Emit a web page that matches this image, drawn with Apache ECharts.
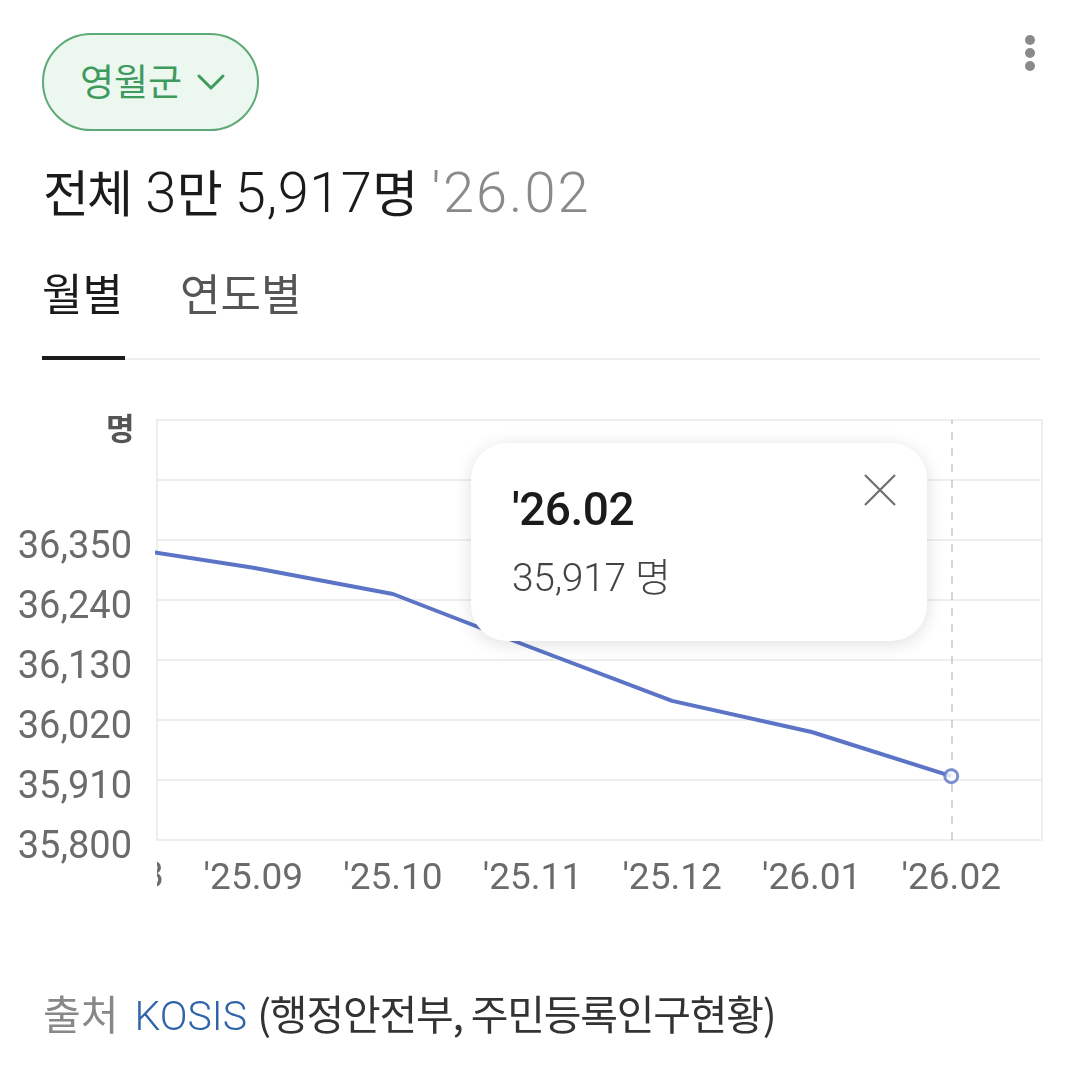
<!DOCTYPE html>
<html>
<head>
<meta charset="utf-8">
<script src="https://cdn.jsdelivr.net/npm/echarts@6/dist/echarts.min.js"></script>
<style>
  html, body { margin:0; padding:0; background:#fff; }
  body { width:1080px; height:1066px; position:relative; overflow:hidden;
         font-family: Roboto, "Noto Sans CJK KR", sans-serif; }
  #chart { position:absolute; left:0; top:0; width:1080px; height:1066px; }
  .abs { position:absolute; white-space:nowrap; }
  .k { font-family:"Noto Sans CJK KR", sans-serif; }
  #region { left:42px; top:33px; width:213px; height:94px; border:2px solid #5eaa76; border-radius:50px;
            background:#ebf7ef; box-sizing:content-box; }
  #region span { position:absolute; left:36px; top:20px; font-size:37px; color:#3f9a5e; letter-spacing:0; line-height:50px; }
  #region svg { position:absolute; left:152px; top:38px; }
  #title { left:43px; top:158px; font-size:56px; color:#1b1b1b; line-height:64px; font-weight:300; letter-spacing:0.5px; }
  #title .k { font-size:50px; letter-spacing:-2px; font-weight:400; }
  #title .date { color:#8a8a8a; margin-left:15px; letter-spacing:2px; }
  #tab1 { left:42px; top:264px; font-size:44px; color:#1b1b1b; line-height:56px; letter-spacing:0; }
  #tab2 { left:180px; top:264px; font-size:44px; color:#555; line-height:56px; letter-spacing:0; }
  #tabline { left:42px; top:358px; width:998px; height:2px; background:#eeeeee; }
  #tabsel { left:42px; top:356px; width:83px; height:4px; background:#1b1b1b; }
  #tip { left:471px; top:443px; width:456px; height:198px; background:#fff; border-radius:36px;
         box-shadow:0 3px 18px rgba(0,0,0,0.13); }
  #tipDate { position:absolute; left:41px; top:38px; font-size:46px; color:#1b1b1b; font-weight:500; letter-spacing:-0.5px; line-height:56px; }
  #tipVal { position:absolute; left:41px; top:106px; font-size:39px; color:#444; font-weight:300; letter-spacing:-0.3px; line-height:50px; }
  #tip svg { position:absolute; left:392px; top:30px; }
  #source { left:43px; top:984px; font-size:41px; line-height:56px; letter-spacing:0; color:#333; }
  #source .s1 { color:#888; }
  #source .s2 { color:#2f64a8; margin-left:16px; font-weight:300; }
  #source .s3 { letter-spacing:-1.2px; }
  .dot { position:absolute; width:10px; height:10px; border-radius:5px; background:#8a8a8a; left:1025px; }
  #clipLabel { position:absolute; top:850px; height:50px; overflow:hidden; }
  #clipLabel span { position:absolute; top:0; font-size:37px; line-height:50px; color:#6b6b6b; white-space:nowrap; }
</style>
</head>
<body>
<div id="chart"></div>

<div id="region" class="abs"><span class="k">영월군</span>
  <svg width="30" height="20" viewBox="0 0 30 20"><polyline points="3,3 15,15 27,3" fill="none" stroke="#3f9a5e" stroke-width="3" stroke-linecap="round" stroke-linejoin="round"/></svg>
</div>
<div class="dot" style="top:35px"></div>
<div class="dot" style="top:48px"></div>
<div class="dot" style="top:61px"></div>

<div id="title" class="abs"></div>
<div id="tab1" class="abs k">월별</div>
<div id="tab2" class="abs k">연도별</div>
<div id="tabline" class="abs"></div>
<div id="tabsel" class="abs"></div>

<div id="clipLabel"><span id="clipText"></span></div>

<div id="tip" class="abs">
  <div id="tipDate"></div>
  <div id="tipVal"></div>
  <svg width="34" height="34" viewBox="0 0 34 34"><path d="M2,2 L32,32 M32,2 L2,32" stroke="#6f6f6f" stroke-width="2.2" fill="none"/></svg>
</div>

<div id="source" class="abs"><span class="s1 k">출처</span><span class="s2">KOSIS</span> <span class="k s3">(행정안전부, 주민등록인구현황)</span></div>

<script>
// ---- data ----
const months = ["'25.08", "'25.09", "'25.10", "'25.11", "'25.12", "'26.01", "'26.02"];
const population = [36339, 36299, 36251, 36152, 36055, 35998, 35917];
const yTicks = [35800, 35910, 36020, 36130, 36240, 36350];
const unit = '명';

// ---- header/tooltip texts built from data ----
const lastIdx = months.length - 1;
const lastVal = population[lastIdx];
function koreanHtml(n) {
  const man = Math.floor(n / 10000), rest = n % 10000;
  return (man ? man + '<span class="k">만</span> ' : '') + rest.toLocaleString('en-US');
}
document.getElementById('title').innerHTML =
  '<span class="k">전체</span> ' + koreanHtml(lastVal) + '<span class="k">' + unit + '</span>' +
  '<span class="date">' + months[lastIdx] + '</span>';
document.getElementById('tipDate').textContent = months[lastIdx];
document.getElementById('tipVal').innerHTML = lastVal.toLocaleString('en-US') + ' <span class="k">' + unit + '</span>';

// ---- chart ----
const chart = echarts.init(document.getElementById('chart'), null, { renderer: 'canvas' });
const lineColor = '#5b74c6';
const labelFont = 'Roboto, "Noto Sans CJK KR", sans-serif';
const yMin = yTicks[0], yStep = yTicks[1] - yTicks[0];
const yMax = yMin + yStep * 7;
const xMin = 0.31, xMax = 6.65;

chart.setOption({
  animation: false,
  backgroundColor: 'transparent',
  grid: { left: 157, right: 38, top: 420, bottom: 226, show: true, borderColor: '#eeeeee', borderWidth: 2, backgroundColor: 'transparent' },
  xAxis: {
    type: 'value',
    min: xMin, max: xMax,
    axisLine: { show: false }, axisTick: { show: false }, splitLine: { show: false },
    axisLabel: {
      customValues: months.map((m, i) => i),
      formatter: v => months[Math.round(v)] || '',
      color: '#6b6b6b', fontSize: 37, fontFamily: labelFont, margin: 21
    }
  },
  yAxis: {
    type: 'value',
    min: yMin, max: yMax, interval: yStep,
    axisLine: { show: false }, axisTick: { show: false },
    splitLine: { lineStyle: { color: '#eeeeee', width: 2 } },
    axisLabel: {
      formatter: v => (v <= yTicks[yTicks.length - 1] ? v.toLocaleString('en-US') : ''),
      color: '#6b6b6b', fontSize: 38, fontFamily: labelFont, margin: 25,
      verticalAlign: 'top', lineHeight: 16
    }
  },
  graphic: [{
    type: 'text', left: 106, top: 413,
    style: { text: unit, font: 'bold 31px "Noto Sans CJK KR", sans-serif', fill: '#555' }
  }],
  series: [{
    type: 'line',
    data: population.map((v, i) => [i, v]),
    symbol: 'none',
    lineStyle: { color: lineColor, width: 4 },
    clip: true,
    markLine: {
      silent: true, symbol: 'none', label: { show: false },
      lineStyle: { color: '#c8c8c8', type: [8, 8], width: 1.5 },
      data: [{ xAxis: lastIdx }]
    }
  }, {
    type: 'scatter',
    data: [[lastIdx, lastVal]],
    symbol: 'circle', symbolSize: 13,
    itemStyle: { color: '#fff', borderColor: lineColor, borderWidth: 3 },
    z: 5
  }]
});

// first month's label sits left of the visible window: show it clipped at the grid edge
const leftEdge = chart.convertToPixel({ gridIndex: 0 }, [xMin, yMin])[0];
const firstX = chart.convertToPixel({ gridIndex: 0 }, [0, yMin])[0];
const clip = document.getElementById('clipLabel');
const ct = document.getElementById('clipText');
ct.textContent = months[0];
clip.style.left = leftEdge + 'px';
clip.style.width = '40px';
const w = ct.getBoundingClientRect().width;
ct.style.left = (firstX - w / 2 - leftEdge) + 'px';
</script>
</body>
</html>
